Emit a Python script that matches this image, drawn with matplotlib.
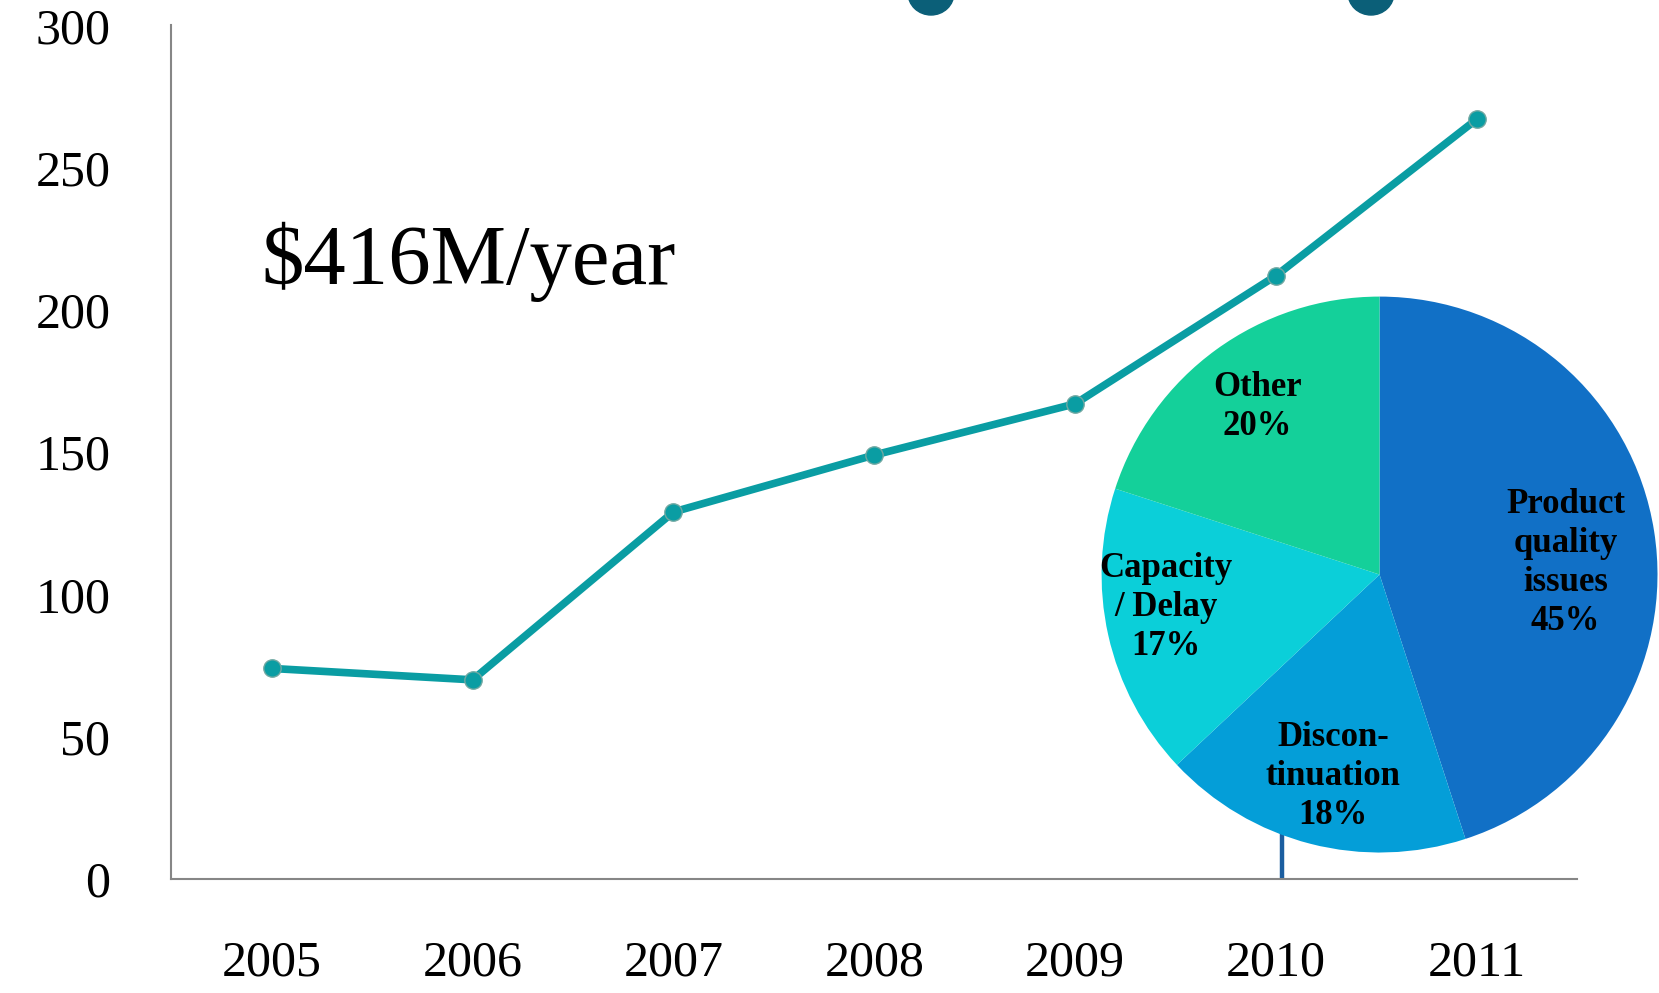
import matplotlib
matplotlib.use("Agg")
import matplotlib.pyplot as plt
from matplotlib.patches import Ellipse

# line series: cost per year
years = ["2005", "2006", "2007", "2008", "2009", "2010", "2011"]
values = [74, 70, 129, 149, 167, 212, 267]
y_ticks = [0, 50, 100, 150, 200, 250, 300]

# pie: causes
pie_labels = ["Product\nquality\nissues\n45%", "Discon-\ntinuation\n18%",
              "Capacity\n/ Delay\n17%", "Other\n20%"]
pie_shares = [45, 18, 17, 20]
pie_colors = ["#1170c6", "#049ed8", "#0bcfd9", "#14d09a"]

SERIF = ["Liberation Serif", "DejaVu Serif"]
TEAL = "#0a9da3"

fig = plt.figure(figsize=(16.59, 9.93), dpi=100)
ax = fig.add_axes([0.1033, 0.1148, 0.8473, 0.8596])

x = list(range(len(years)))
# thin navy connector behind the pie
ax.plot([5.03, 5.03], [0, 60], color="#1b5ea0", lw=3.2, zorder=1)
ax.plot(x, values, color=TEAL, lw=5.5, marker="o", markersize=12.5,
        markerfacecolor=TEAL, markeredgecolor="#70a8a2", markeredgewidth=1,
        zorder=3, clip_on=False)

ax.set_xlim(-0.5, 6.5)
ax.set_ylim(0, 300)
ax.set_xticks(x)
ax.set_xticklabels(years)
ax.set_yticks(y_ticks)
ax.tick_params(length=0, labelsize=36)
ax.tick_params(axis="y", pad=44)
ax.tick_params(axis="x", pad=44)
for lab in ax.get_xticklabels() + ax.get_yticklabels():
    lab.set_family(SERIF)
for side in ("top", "right"):
    ax.spines[side].set_visible(False)
for side in ("left", "bottom"):
    ax.spines[side].set_color("#868686")
    ax.spines[side].set_linewidth(1.5)

ax.text(-0.05, 209, "$416M/year", fontsize=61, family=SERIF,
        ha="left", va="baseline")

# pie in its own axes, overlapping the line chart
pax = fig.add_axes([0.664, 0.1414, 0.3351, 0.560])
pax.pie(pie_shares, colors=pie_colors, startangle=90, counterclock=False,
        radius=1, wedgeprops=dict(linewidth=0))
pax.set_xlim(-1, 1)
pax.set_ylim(-1, 1)
pax.set_aspect("equal")
pax.axis("off")
label_pos = [(0.669, 0.042), (-0.168, -0.727), (-0.769, -0.118), (-0.44, 0.603)]
for txt, (lx, ly) in zip(pie_labels, label_pos):
    pax.text(lx, ly, txt, ha="center", va="center", fontsize=25,
             fontweight="bold", family=SERIF, linespacing=1.25)

# descenders of the cut-off title at the top edge
for cx in (931, 1371):
    fig.patches.append(Ellipse((cx / 1659, (993 + 7) / 993), 46 / 1659, 44 / 993,
                               transform=fig.transFigure, color="#0b5f78",
                               zorder=5))

fig.savefig("out.png", dpi=100)
